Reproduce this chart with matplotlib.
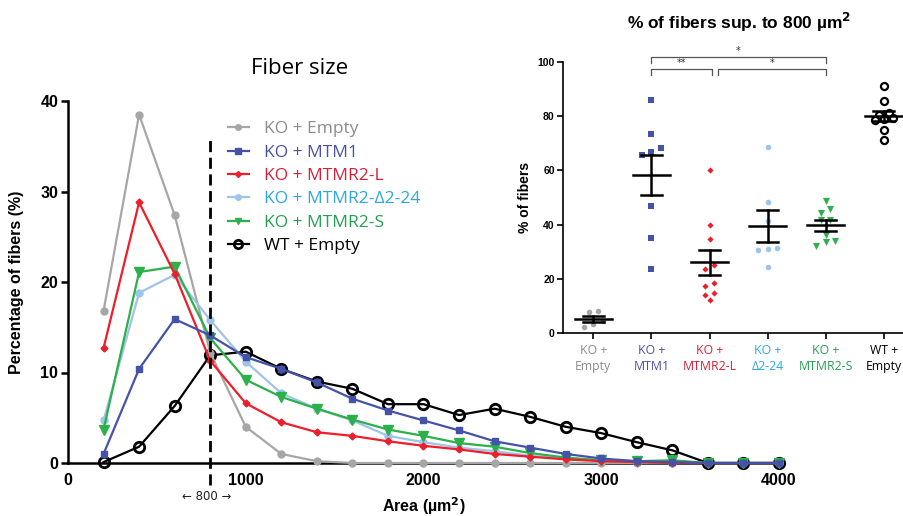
import numpy as np
import matplotlib
matplotlib.use("Agg")
import matplotlib.pyplot as plt
from matplotlib.lines import Line2D

# Fiber size distribution (% of fibers per area bin)
area = [200, 400, 600, 800, 1000, 1200, 1400, 1600, 1800, 2000,
        2200, 2400, 2600, 2800, 3000, 3200, 3400, 3600, 3800, 4000]
ko_empty = [16.8, 38.5, 27.4, 12.2, 4.0, 1.0, 0.2, 0, 0, 0, 0, 0, 0, 0, 0, 0, 0, 0, 0, 0]
ko_mtm1 = [1.0, 10.4, 15.9, 14.1, 11.7, 10.4, 8.9, 7.1, 5.8, 4.7, 3.6, 2.4, 1.7, 1.0, 0.5, 0.2, 0.1, 0, 0, 0]
ko_mtmr2_l = [12.7, 28.8, 20.9, 11.3, 6.6, 4.5, 3.4, 3.0, 2.4, 1.9, 1.5, 1.0, 0.7, 0.4, 0.2, 0.1, 0, 0, 0, 0]
ko_d2_24 = [4.7, 18.8, 20.8, 15.8, 11.2, 7.7, 6.0, 4.7, 3.0, 2.3, 1.7, 1.3, 0.8, 0.5, 0.3, 0.2, 0.1, 0, 0, 0]
ko_mtmr2_s = [3.7, 21.1, 21.7, 13.8, 9.2, 7.3, 6.0, 4.8, 3.7, 3.0, 2.2, 1.8, 1.1, 0.6, 0.3, 0.2, 0.3, 0, 0, 0]
wt_empty = [0.1, 1.8, 6.3, 11.9, 12.3, 10.4, 9.0, 8.2, 6.5, 6.5, 5.3, 6.0, 5.1, 4.0, 3.3, 2.3, 1.4, 0, 0, 0]

series_labels = ["KO + Empty", "KO + MTM1", "KO + MTMR2-L",
                 "KO + MTMR2-\u03942-24", "KO + MTMR2-S", "WT + Empty"]

# % of fibers > 800 um2, per mouse
pts_ko_empty = [8.2, 7.9, 4.3, 3.5, 2.1]
pts_mtm1 = [86.0, 73.3, 68.2, 66.8, 65.8, 47.0, 35.2, 23.8]
pts_mtmr2_l = [60.2, 39.7, 34.8, 25.2, 23.5, 18.6, 17.5, 14.9, 14.0, 12.1]
pts_d2_24 = [68.8, 48.5, 41.5, 31.5, 31.0, 30.7, 24.3]
pts_mtmr2_s = [48.8, 45.7, 44.4, 41.7, 41.7, 36.0, 34.0, 33.4, 32.1]
pts_wt = [91.0, 85.7, 81.0, 80.6, 79.2, 78.8, 78.5, 75.0, 71.2]
inset_labels = ["KO +\nEmpty", "KO +\nMTM1", "KO +\nMTMR2-L",
                "KO +\n\u03942-24", "KO +\nMTMR2-S", "WT +\nEmpty"]

line_colors = ["#a6a6a6", "#4453a8", "#ee1d2a", "#9ec4e8", "#2cb04c", "black"]
text_colors = ["#8c8c8c", "#4a50a6", "#d7203a", "#2aa8e0", "#22a050", "black"]


def spread(vals, thr=1.8, step=0.16):
    # horizontal offsets for points with close values (scatter dot plot)
    vals = np.asarray(vals)
    order = np.argsort(vals)
    offs = np.zeros(len(vals))
    groups, cur = [], [order[0]]
    for i in order[1:]:
        if vals[i] - vals[cur[-1]] < thr:
            cur.append(i)
        else:
            groups.append(cur)
            cur = [i]
    groups.append(cur)
    for g in groups:
        for j, idx in enumerate(g):
            offs[idx] = (j - (len(g) - 1) / 2) * step
    return offs


fig = plt.figure(figsize=(9.04, 5.16), dpi=100)

# ---------------- main plot ----------------
ax = fig.add_axes([68 / 904, 53 / 516, 711 / 904, 362 / 516])
ax.set_facecolor("none")

ax.plot(area, wt_empty, color="black", lw=1.6, marker="o", ms=7.5, mfc="none",
        mec="black", mew=2.0, zorder=3, clip_on=False)
ax.plot(area, ko_empty, color=line_colors[0], lw=1.6, marker="o", ms=5, zorder=4, clip_on=False)
ax.plot(area, ko_d2_24, color=line_colors[3], lw=1.6, marker="o", ms=5, zorder=5, clip_on=False)
ax.plot(area, ko_mtmr2_s, color=line_colors[4], lw=1.6, marker="v", ms=6.5, zorder=6, clip_on=False)
ax.plot(area, ko_mtmr2_l, color=line_colors[2], lw=1.6, marker="D", ms=3.5, zorder=7, clip_on=False)
ax.plot(area, ko_mtm1, color=line_colors[1], lw=1.6, marker="s", ms=5, zorder=8, clip_on=False)

ax.plot([800, 800], [-2.4, 36.1], color="black", lw=2, ls=(0, (4, 2)), clip_on=False, zorder=9)

ax.set_xlim(0, 4000)
ax.set_ylim(0, 40)
ax.set_xticks([0, 1000, 2000, 3000, 4000])
ax.set_yticks([0, 10, 20, 30, 40])
for s in ["top", "right"]:
    ax.spines[s].set_visible(False)
ax.spines["left"].set_linewidth(1.8)
ax.spines["bottom"].set_linewidth(1.8)
ax.tick_params(axis="y", length=5, width=1.8, labelsize=11.5, pad=2)
ax.tick_params(axis="x", length=0, labelsize=11.5, pad=7)
for lab in ax.get_xticklabels() + ax.get_yticklabels():
    lab.set_fontfamily("Liberation Sans")
    lab.set_fontweight("bold")
ax.set_xlabel("Area (\u00b5m$^\\mathbf{2}$)", fontsize=11.5, fontweight="bold",
              family="Liberation Sans")
ax.xaxis.set_label_coords(0.5, -0.088)
ax.set_ylabel("Percentage of fibers (%)", fontsize=11.5, fontweight="bold",
              family="Liberation Sans", labelpad=12)

fig.text(300 / 904, 1 - 68 / 516, "Fiber size", fontsize=16, family="Open Sans",
         ha="center", va="center")
fig.text(207 / 904, 1 - 497 / 516, "\u2190 800 \u2192", fontsize=8.5, family="DejaVu Sans",
         ha="center", va="center", color="#222222")

handles = [
    Line2D([], [], color=line_colors[0], lw=1.6, marker="o", ms=4),
    Line2D([], [], color=line_colors[1], lw=1.6, marker="s", ms=4),
    Line2D([], [], color=line_colors[2], lw=1.6, marker="D", ms=3),
    Line2D([], [], color=line_colors[3], lw=1.6, marker="o", ms=4),
    Line2D([], [], color=line_colors[4], lw=1.6, marker="v", ms=5),
    Line2D([], [], color="black", lw=1.6, marker="o", ms=6, mfc="none", mew=2),
]
leg = fig.legend(handles, series_labels, loc="upper left",
                 bbox_to_anchor=(228 / 904, 1 - 121 / 516), frameon=False,
                 borderpad=0, borderaxespad=0,
                 prop={"family": "Open Sans", "size": 12.5}, handlelength=1.2,
                 handletextpad=0.85, labelspacing=0.42, labelcolor=text_colors)

# ---------------- inset ----------------
ins = fig.add_axes([563 / 904, 183 / 516, 350 / 904, 271 / 516])
ins.set_facecolor("none")
groups = [pts_ko_empty, pts_mtm1, pts_mtmr2_l, pts_d2_24, pts_mtmr2_s, pts_wt]
markers = ["o", "s", "D", "o", "v", "o"]
sizes = [16, 14, 10, 16, 26, 26]
thresholds = [1.8, 1.8, 1.8, 1.8, 1.8, 1.0]
for i, vals in enumerate(groups):
    xs = i + spread(vals, thr=thresholds[i])
    if i == 5:
        ins.scatter(xs, vals, s=sizes[i], marker="o", facecolors="white",
                    edgecolors="black", linewidths=1.6, zorder=3, clip_on=False)
    else:
        ins.scatter(xs, vals, s=sizes[i], marker=markers[i], color=line_colors[i],
                    linewidths=0, zorder=3, clip_on=False)
    m = np.mean(vals)
    sem = np.std(vals, ddof=1) / np.sqrt(len(vals))
    ins.plot([i - 0.32, i + 0.32], [m, m], color="black", lw=1.8, zorder=4)
    ins.plot([i, i], [m - sem, m + sem], color="black", lw=1.8, zorder=4)
    for yy in (m - sem, m + sem):
        ins.plot([i - 0.18, i + 0.18], [yy, yy], color="black", lw=1.8, zorder=4)

# significance brackets
bc = "#555555"
brackets = [(1, 4, 101.8, 99.6, "*"), (1, 2.05, 97.5, 95.3, "**"), (2.15, 4, 97.5, 95.3, "*")]
for x0, x1, top, low, star in brackets:
    ins.plot([x0, x0, x1, x1], [low, top, top, low], color=bc, lw=0.9, clip_on=False)
    ins.text((x0 + x1) / 2, top + 0.3, star, ha="center", va="bottom", fontsize=7,
             color="#333333")

ins.set_xlim(-0.52, 5.5)
ins.set_ylim(0, 100)
ins.set_yticks([0, 20, 40, 60, 80, 100])
ins.set_xticks(range(6))
ins.set_xticklabels(inset_labels, family="Open Sans", fontsize=8.8, linespacing=1.25)
for lab, c in zip(ins.get_xticklabels(), text_colors):
    lab.set_color(c)
for lab in ins.get_yticklabels():
    lab.set_fontfamily("Liberation Sans")
    lab.set_fontweight("bold")
    lab.set_fontsize(7.5)
for s in ["top", "right"]:
    ins.spines[s].set_visible(False)
ins.spines["left"].set_linewidth(1.2)
ins.spines["bottom"].set_linewidth(1.2)
ins.tick_params(axis="both", length=4, width=1.2, pad=2)
ins.tick_params(axis="x", pad=4)
ins.set_ylabel("% of fibers", fontsize=10, fontweight="bold", family="Liberation Sans",
               labelpad=4)
fig.text(739 / 904, 1 - 22 / 516, "% of fibers sup. to 800 \u00b5m$^\\mathbf{2}$",
         fontsize=12.5, fontweight="bold", family="Liberation Sans", ha="center", va="center")

fig.savefig("out.png", dpi=100)
